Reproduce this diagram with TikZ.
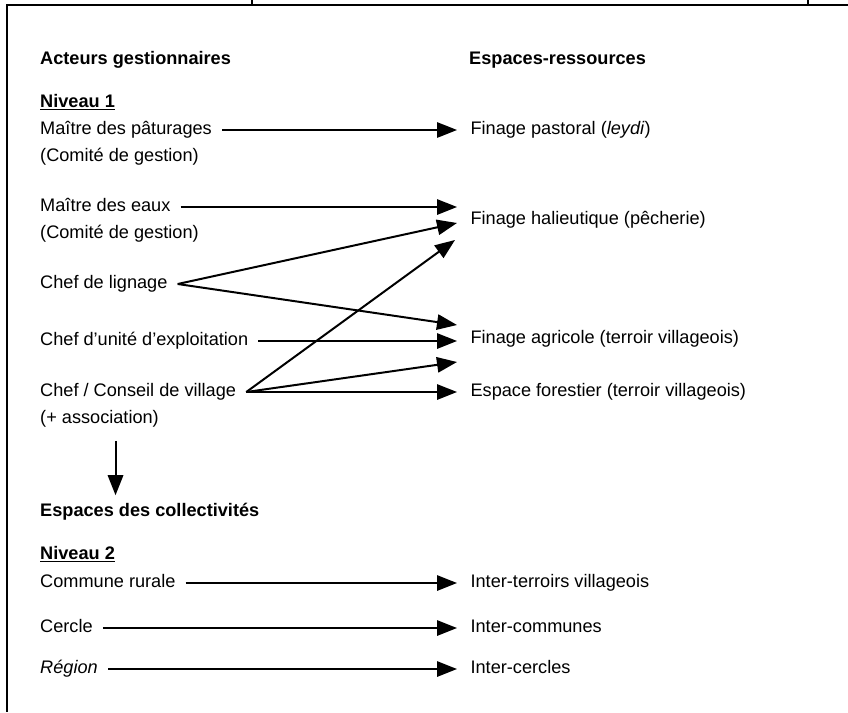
\documentclass[tikz,border=0pt]{standalone}
\usepackage{fontspec}
\setmainfont{Liberation Sans}
\usetikzlibrary{arrows.meta,positioning}
\newcommand\txtsize{\fontsize{15.5}{18}\selectfont}
\tikzset{
  lbl/.style={anchor=west,inner xsep=3mm,inner ysep=1mm,text height=11pt,text depth=3pt,font=\txtsize},
  res/.style={lbl,inner xsep=4mm},
  head/.style={lbl,inner xsep=0pt,font=\txtsize\bfseries},
  arr/.style={-{Triangle[length=6mm,width=4.6mm]},line width=1.7pt}
}

\begin{document}
\begin{tikzpicture}
        \useasboundingbox (0,0) rectangle (25.44,-21.36);
        % frame
        \draw[line width=1.2pt] (25.44,-0.15) -- (0.21,-0.15) -- (0.21,-21.36);
        \draw[line width=1.2pt] (7.56,0) -- (7.56,-0.15);
        \draw[line width=1.2pt] (24.24,0) -- (24.24,-0.15);
        % headings
        \node[head] (ag) at (1.2,-1.8) {Acteurs gestionnaires};
        \node[head] (er) at (14.07,-1.8) {Espaces-ressources};
        \node[head] (n1) at (1.2,-3.09) {\underline{Niveau 1}};
        % niveau 1 actors
        \node[lbl] (mp) at (0.9,-3.9) {Maître des pâturages};
        \node[lbl] (mpc) at (0.9,-4.71) {(Comité de gestion)};
        \node[lbl] (me) at (0.9,-6.21) {Maître des eaux};
        \node[lbl] (mec) at (0.9,-7.02) {(Comité de gestion)};
        \node[lbl] (cl) at (0.9,-8.52) {Chef de lignage};
        \node[lbl] (cu) at (0.9,-10.23) {Chef d'unité d'exploitation};
        \node[lbl] (cv) at (0.9,-11.76) {Chef / Conseil de village};
        \node[lbl] (cva) at (0.9,-12.57) {(+ association)};
        % espaces-ressources
        \node[res] (fp) at (13.71,-3.9) {Finage pastoral (\textit{leydi})};
        \node[res] (fh) at (13.71,-6.6) {Finage halieutique (pêcherie)};
        \node[res] (fa) at (13.71,-10.17) {Finage agricole (terroir villageois)};
        \node[res] (ef) at (13.71,-11.76) {Espace forestier (terroir villageois)};
        % niveau 2
        \node[head] (ec) at (1.2,-15.36) {Espaces des collectivités};
        \node[head] (n2) at (1.2,-16.65) {\underline{Niveau 2}};
        \node[lbl] (cr) at (0.9,-17.49) {Commune rurale};
        \node[lbl] (ce) at (0.9,-18.84) {Cercle};
        \node[lbl] (re) at (0.9,-20.07) {\textit{Région}};
        \node[res] (it) at (13.71,-17.49) {Inter-terroirs villageois};
        \node[res] (ic) at (13.71,-18.84) {Inter-communes};
        \node[res] (icr) at (13.71,-20.07) {Inter-cercles};
        % arrows
        \draw[arr] (mp) -- (fp);
        \draw[arr] (me.east) -- (me.east -| fh.west);
        \draw[arr] (cl.east) -- ([yshift=-0.09cm]fh.west);
        \draw[arr] (cl.east) -- ([yshift=0.42cm]fa.west);
        \draw[arr] (cu.east) -- (cu.east -| fa.west);
        \draw[arr] (cv.east) -- ([xshift=-0.06cm,yshift=-0.6cm]fh.west);
        \draw[arr] (cv.east) -- ([yshift=-0.69cm]fa.west);
        \draw[arr] (cv) -- (ef);
        \draw[arr,shorten <=3mm,shorten >=1.5mm] ([xshift=4.8mm]cva.south) -- ([xshift=4.8mm]cva.south |- ec.north);
        \draw[arr] (cr) -- (it);
        \draw[arr] (ce) -- (ic);
        \draw[arr] (re) -- (icr);
      \end{tikzpicture}
\end{document}
